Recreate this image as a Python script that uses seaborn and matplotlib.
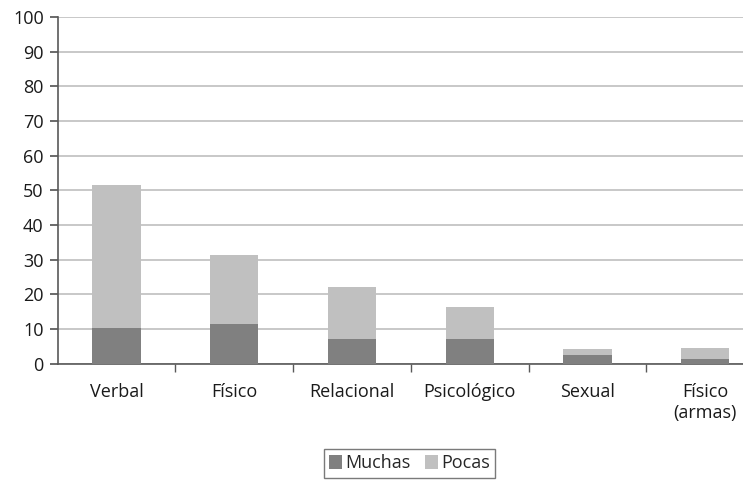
import matplotlib
matplotlib.use("Agg")
import matplotlib.pyplot as plt
import seaborn as sns
import pandas as pd
import numpy as np

categorias = ["Verbal", "Físico", "Relacional", "Psicológico", "Sexual", "Físico\n(armas)"]
muchas = [10.4, 11.5, 7.2, 7.2, 2.6, 1.4]
pocas = [41.2, 19.9, 15.0, 9.2, 1.7, 3.2]

color_muchas = "#808080"
color_pocas = "#c0c0c0"

sns.set_theme(style="white")
plt.rcParams["font.family"] = ["Open Sans", "DejaVu Sans"]

df = pd.DataFrame({"categoria": categorias, "muchas": muchas, "pocas": pocas})
df["total"] = df["muchas"] + df["pocas"]

fig = plt.figure(figsize=(7.43, 4.80), dpi=100)
# the original chart is cropped on the right, so the axes run past the figure edge
ax = fig.add_axes([0.0775, 0.242, 0.951, 0.723])

# Excel-style stacked bars: total in light grey, Muchas overlaid in dark grey
sns.barplot(data=df, x="categoria", y="total", color=color_pocas, width=0.41,
            saturation=1, ax=ax, label="Pocas", zorder=3, linewidth=0)
sns.barplot(data=df, x="categoria", y="muchas", color=color_muchas, width=0.41,
            saturation=1, ax=ax, label="Muchas", zorder=4, linewidth=0)
if ax.get_legend() is not None:
    ax.get_legend().remove()

ax.set_ylim(0, 100)
ax.set_xlim(-0.5, len(categorias) - 0.5)
ax.set_yticks(range(0, 101, 10))
ax.yaxis.grid(True, color="#bfbfbf", linewidth=1.2, zorder=0)
ax.set_axisbelow(True)
ax.set_xlabel("")
ax.set_ylabel("")

for s in ["top", "right"]:
    ax.spines[s].set_visible(False)
for s in ["left", "bottom"]:
    ax.spines[s].set_color("#595959")
    ax.spines[s].set_linewidth(1.2)

ax.tick_params(axis="y", which="major", left=True, length=6, color="#595959",
               labelsize=13, labelcolor="#1a1a1a", pad=4)
ax.tick_params(axis="x", which="major", bottom=False, labelsize=13,
               labelcolor="#1a1a1a", pad=8)
ax.set_xticks(np.arange(0.5, len(categorias) - 0.5, 1), minor=True)
ax.tick_params(axis="x", which="minor", bottom=True, length=6, color="#595959", width=1)

handles, labels = ax.get_legend_handles_labels()
order = [labels.index("Muchas"), labels.index("Pocas")]
leg = fig.legend([handles[i] for i in order], [labels[i] for i in order],
                 loc="center", bbox_to_anchor=(0.551, 0.035), ncol=2,
                 frameon=True, fancybox=False, fontsize=13,
                 handlelength=0.75, handleheight=0.75, handletextpad=0.15,
                 columnspacing=0.8, borderpad=0.3, borderaxespad=0)
leg.get_frame().set_edgecolor("#595959")
leg.get_frame().set_linewidth(1.0)

fig.savefig("out.png", dpi=100)
